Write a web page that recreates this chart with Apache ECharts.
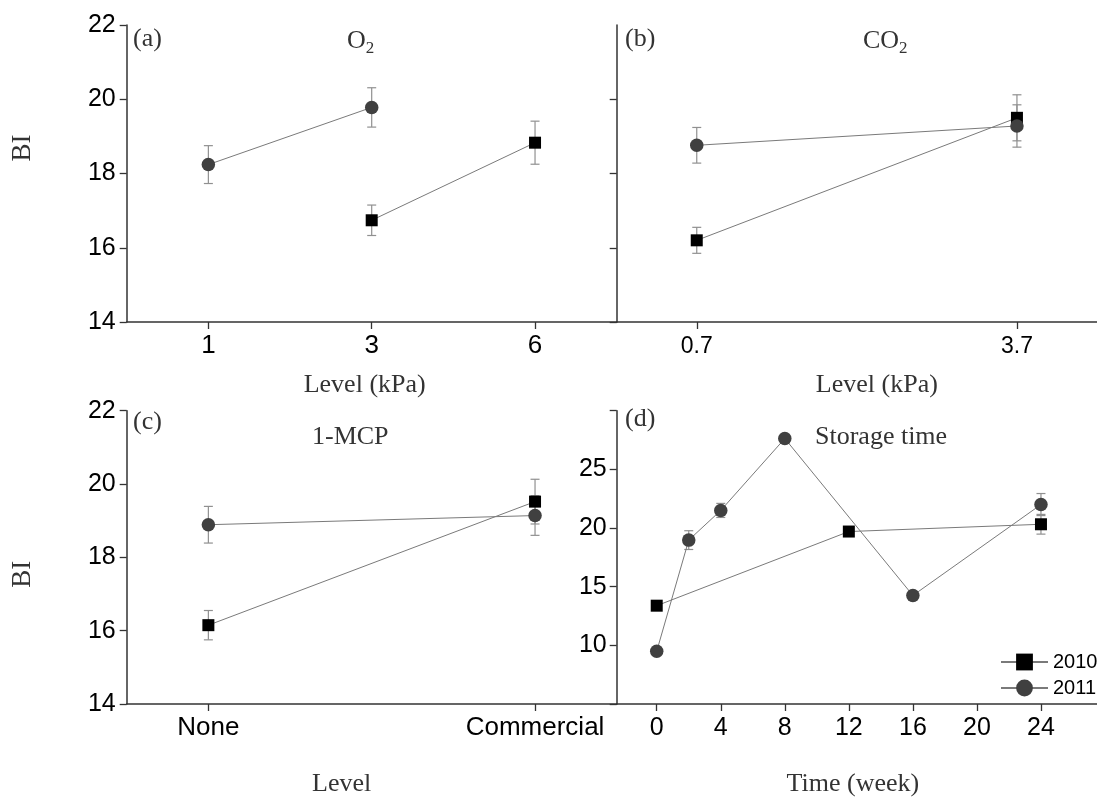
<!DOCTYPE html>
<html><head><meta charset="utf-8">
<script src="https://cdn.jsdelivr.net/npm/echarts@6/dist/echarts.min.js"></script>
<style>html,body{margin:0;padding:0;background:#fff}#c{width:1097px;height:798px}</style>
</head><body><div id="c"></div>
<script>
// ---------- data ----------
const o2Levels = ['1', '3', '6'];
const o2Mean2010 = [null, 16.74, 18.83];
const o2Err2010 = [null, 0.41, 0.58];
const o2Mean2011 = [18.24, 19.78, null];
const o2Err2011 = [0.51, 0.53, null];

const co2Levels = [0.7, 3.7];
const co2Mean2010 = [16.2, 19.5];
const co2Err2010 = [0.35, 0.62];
const co2Mean2011 = [18.76, 19.28];
const co2Err2011 = [0.48, 0.57];

const mcpLevels = ['None', 'Commercial'];
const mcpMean2010 = [16.15, 19.52];
const mcpErr2010 = [0.4, 0.61];
const mcpMean2011 = [18.89, 19.14];
const mcpErr2011 = [0.5, 0.54];

const weeks2010 = [0, 12, 24];
const timeMean2010 = [13.38, 19.7, 20.32];
const timeErr2010 = [0, 0, 0.84];
const weeks2011 = [0, 2, 4, 8, 16, 24];
const timeMean2011 = [9.5, 18.97, 21.5, 27.63, 14.25, 22.0];
const timeErr2011 = [0, 0.8, 0.6, 0, 0, 0.94];

const timeTicks = [0, 4, 8, 12, 16, 20, 24];
const timeYLabels = [10, 15, 20, 25];
const seriesNames = ['2010', '2011'];

// ---------- helpers ----------
const SANS = 'Liberation Sans, Arial, sans-serif';
const SERIF = 'Liberation Serif, Times New Roman, serif';
const pairs = (xs, ys) => xs.map((x, i) => ys[i] == null ? null : [x, ys[i]]).filter(Boolean);
const errs = (xs, ys, es) => xs.map((x, i) => ys[i] == null ? null : [x, ys[i] - es[i], ys[i] + es[i]]).filter(Boolean);

function errRender(params, api) {
  const x = api.value(0), lo = api.value(1), hi = api.value(2);
  const pLo = api.coord([x, lo]), pHi = api.coord([x, hi]);
  const hw = 4.5;
  const style = { stroke: '#909090', lineWidth: 1.2 };
  return { type: 'group', children: [
    { type: 'line', shape: { x1: pLo[0], y1: pLo[1], x2: pHi[0], y2: pHi[1] }, style },
    { type: 'line', shape: { x1: pLo[0] - hw, y1: pHi[1], x2: pLo[0] + hw, y2: pHi[1] }, style },
    { type: 'line', shape: { x1: pLo[0] - hw, y1: pLo[1], x2: pLo[0] + hw, y2: pLo[1] }, style }
  ]};
}

const axisLine = { show: true, onZero: false, lineStyle: { color: '#333', width: 1.5 } };
const axisTick = { show: true, length: 7, lineStyle: { color: '#333', width: 1.3 } };
const yLabel = { fontSize: 25, fontFamily: SANS, color: '#000', margin: 11 };
const xLabel = (size, margin) => ({ fontSize: size, fontFamily: SANS, color: '#000', margin });
const nameStyle = { fontSize: 26, fontFamily: SERIF, color: '#333' };

function lineSeries(name, idx, data) {
  const sq = name === '2010';
  return {
    type: 'line', name, xAxisIndex: idx, yAxisIndex: idx, data,
    symbol: sq ? 'rect' : 'circle', symbolSize: sq ? 12 : 13.5,
    itemStyle: { color: sq ? '#000' : '#404040' },
    lineStyle: { color: '#7a7a7a', width: 1 },
    z: sq ? 3 : 4, animation: false
  };
}
function errSeries(idx, data) {
  return { type: 'custom', xAxisIndex: idx, yAxisIndex: idx, data, renderItem: errRender,
           encode: { x: 0, y: [1, 2] }, z: 2, silent: true, animation: false };
}

const titleStyle = {
  fontSize: 26, fontFamily: SERIF, color: '#333', fontWeight: 'normal',
  rich: {
    n: { fontSize: 26, fontFamily: SERIF, color: '#333' },
    s: { fontSize: 17, fontFamily: SERIF, color: '#333', padding: [14, 0, 0, 0] }
  }
};
const mkTitle = (text, left, top) => ({ text, left, top, padding: 0, textStyle: titleStyle });

const option = {
  backgroundColor: '#fff',
  animation: false,
  title: [
    mkTitle('(a)', 133, 26),
    mkTitle('{n|O}{s|2}', 347, 26),
    mkTitle('(b)', 625, 26),
    mkTitle('{n|CO}{s|2}', 863, 26),
    mkTitle('(c)', 133, 409),
    mkTitle('1-MCP', 312, 424),
    mkTitle('(d)', 625, 406),
    mkTitle('Storage time', 815, 424)
  ],
  legend: {
    data: seriesNames, orient: 'vertical', left: 1000, top: 652, padding: 0,
    itemWidth: 47, itemHeight: 21, itemGap: 6,
    textStyle: { fontSize: 20, fontFamily: SANS, color: '#000' }
  },
  grid: [
    { left: 126.7, top: 25, width: 490, height: 297 },
    { left: 616.7, top: 25, width: 491, height: 297 },
    { left: 126.7, top: 410.7, width: 490, height: 296 },
    { left: 616.7, top: 410.7, width: 491, height: 296 }
  ],
  xAxis: [
    { gridIndex: 0, type: 'category', data: o2Levels, boundaryGap: true,
      axisLine, axisTick: Object.assign({ alignWithLabel: true }, axisTick), axisLabel: xLabel(26, 11),
      name: 'Level (kPa)', nameLocation: 'middle', nameGap: 50,
      nameTextStyle: Object.assign({ padding: [0, 14, 0, 0] }, nameStyle) },
    { gridIndex: 1, type: 'value', min: -0.05, max: 4.45, splitLine: { show: false },
      axisLine, axisTick: Object.assign({ customValues: co2Levels }, axisTick),
      axisLabel: Object.assign({ customValues: co2Levels, formatter: v => String(v) }, xLabel(23, 13)),
      name: 'Level (kPa)', nameLocation: 'middle', nameGap: 50,
      nameTextStyle: Object.assign({ padding: [0, 0, 0, 40] }, nameStyle) },
    { gridIndex: 2, type: 'value', min: -0.25, max: 1.25, splitLine: { show: false },
      axisLine, axisTick: Object.assign({ customValues: [0, 1] }, axisTick),
      axisLabel: Object.assign({ customValues: [0, 1], formatter: v => mcpLevels[Math.round(v)] }, xLabel(26, 11)),
      name: 'Level', nameLocation: 'middle', nameGap: 67,
      nameTextStyle: Object.assign({ padding: [0, 60, 0, 0] }, nameStyle) },
    { gridIndex: 3, type: 'value', min: -2.5, max: 27.5, splitLine: { show: false },
      axisLine, axisTick: Object.assign({ customValues: timeTicks }, axisTick),
      axisLabel: Object.assign({ customValues: timeTicks }, xLabel(25, 12)),
      name: 'Time (week)', nameLocation: 'middle', nameGap: 67,
      nameTextStyle: Object.assign({ padding: [0, 8, 0, 0] }, nameStyle) }
  ],
  yAxis: [
    { gridIndex: 0, type: 'value', min: 14, max: 22, interval: 2, splitLine: { show: false },
      axisLine, axisTick, axisLabel: yLabel,
      name: 'BI', nameLocation: 'middle', nameGap: 90,
      nameTextStyle: Object.assign({ padding: [0, 0, 0, 51] }, nameStyle, { fontSize: 27 }) },
    { gridIndex: 1, type: 'value', min: 14, max: 22, interval: 2, splitLine: { show: false },
      axisLine, axisTick: Object.assign({ customValues: [14, 16, 18, 20] }, axisTick),
      axisLabel: { show: false } },
    { gridIndex: 2, type: 'value', min: 14, max: 22, interval: 2, splitLine: { show: false },
      axisLine, axisTick, axisLabel: yLabel,
      name: 'BI', nameLocation: 'middle', nameGap: 90,
      nameTextStyle: Object.assign({ padding: [0, 34, 0, 0] }, nameStyle, { fontSize: 27 }) },
    { gridIndex: 3, type: 'value', min: 5, max: 30, interval: 5, splitLine: { show: false },
      axisLine, axisTick, axisLabel: Object.assign({ customValues: timeYLabels }, yLabel, { margin: 10 }) }
  ],
  series: [
    errSeries(0, errs([0, 1, 2], o2Mean2010, o2Err2010)),
    errSeries(0, errs([0, 1, 2], o2Mean2011, o2Err2011)),
    lineSeries('2010', 0, o2Mean2010),
    lineSeries('2011', 0, o2Mean2011),

    errSeries(1, errs(co2Levels, co2Mean2010, co2Err2010)),
    errSeries(1, errs(co2Levels, co2Mean2011, co2Err2011)),
    lineSeries('2010', 1, pairs(co2Levels, co2Mean2010)),
    lineSeries('2011', 1, pairs(co2Levels, co2Mean2011)),

    errSeries(2, errs([0, 1], mcpMean2010, mcpErr2010)),
    errSeries(2, errs([0, 1], mcpMean2011, mcpErr2011)),
    lineSeries('2010', 2, pairs([0, 1], mcpMean2010)),
    lineSeries('2011', 2, pairs([0, 1], mcpMean2011)),

    errSeries(3, errs(weeks2010, timeMean2010, timeErr2010)),
    errSeries(3, errs(weeks2011, timeMean2011, timeErr2011)),
    lineSeries('2010', 3, pairs(weeks2010, timeMean2010)),
    lineSeries('2011', 3, pairs(weeks2011, timeMean2011))
  ]
};

const chart = echarts.init(document.getElementById('c'), null, { renderer: 'canvas' });
chart.setOption(option);
</script>
</body></html>
